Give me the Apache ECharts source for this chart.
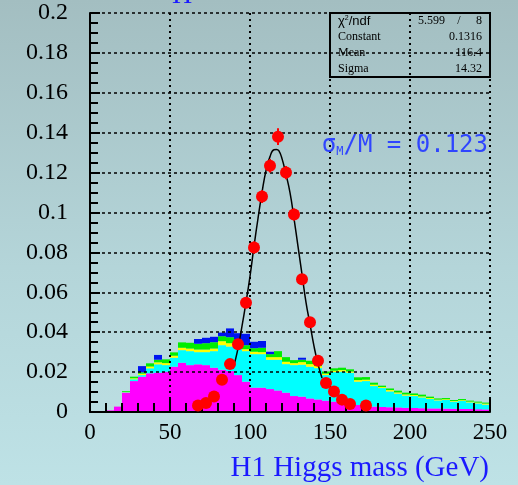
<!DOCTYPE html>
<html>
<head>
<meta charset="utf-8">
<script src="https://cdn.jsdelivr.net/npm/echarts@6/dist/echarts.min.js"></script>
<style>
  body { margin: 0; background: linear-gradient(180deg, #a3bec1 0%, #b4d5d9 55%, #bee2e6 100%); }
  #main { width: 518px; height: 485px; }
</style>
</head>
<body>
<div id="main"></div>
<script>
// histogram bins (lower edge, GeV), 5 GeV wide
const binStart = [0, 5, 10, 15, 20, 25, 30, 35, 40, 45, 50, 55, 60, 65, 70, 75, 80, 85, 90, 95,
  100, 105, 110, 115, 120, 125, 130, 135, 140, 145, 150, 155, 160, 165, 170, 175, 180, 185, 190, 195,
  200, 205, 210, 215, 220, 225, 230, 235, 240, 245]

// stacked background contributions (each layer's own height)
const redBkg = [0.0004, 0.0004, 0.0004, 0.0004, 0.0004, 0.0004, 0.0004, 0.0004, 0.0004, 0.0004,
  0.0004, 0.0004, 0.0004, 0.0004, 0.0004, 0.0004, 0.0004, 0.0004, 0.0004, 0.0004,
  0.0004, 0.0004, 0.0004, 0.0004, 0.0004, 0.0004, 0.0004, 0.0004, 0.0004, 0.0004,
  0.0004, 0.0004, 0.0004, 0.0004, 0.0004, 0.0004, 0.0004, 0.0004, 0.0004, 0.0004,
  0.0004, 0.0004, 0.0004, 0.0004, 0.0004, 0.0004, 0.0004, 0.0004, 0.0004, 0.0004]
const magentaBkg = [0, 0, 0.0004, 0.0023, 0.0093, 0.0151, 0.0173, 0.019, 0.0193, 0.0198,
  0.0223, 0.0243, 0.0231, 0.0235, 0.0231, 0.0218, 0.0208, 0.0201, 0.0181, 0.0148,
  0.0118, 0.0118, 0.0111, 0.0104, 0.0093, 0.0076, 0.0073, 0.0064, 0.0059, 0.0053,
  0.0048, 0.0041, 0.0036, 0.0031, 0.0028, 0.0023, 0.0021, 0.002, 0.0019, 0.0017,
  0.0016, 0.0015, 0.0014, 0.0014, 0.0013, 0.0012, 0.0011, 0.0011, 0.001, 0.0009]
const cyanBkg = [0, 0, 0, 0, 0.0002, 0.0009, 0.0008, 0.0025, 0.0042, 0.0033,
  0.0045, 0.0063, 0.007, 0.0061, 0.0065, 0.0083, 0.0123, 0.0123, 0.014, 0.0153,
  0.0168, 0.0168, 0.0147, 0.0154, 0.0143, 0.0155, 0.016, 0.0159, 0.0157, 0.0128,
  0.0148, 0.0157, 0.0157, 0.0117, 0.0123, 0.0103, 0.0095, 0.0079, 0.0069, 0.0061,
  0.006, 0.0054, 0.0047, 0.004, 0.0043, 0.0036, 0.004, 0.0033, 0.0029, 0.0024]
const yellowBkg = [0, 0, 0, 0, 0.0002, 0.0005, 0.0007, 0.0009, 0.001, 0.001,
  0.001, 0.0012, 0.0013, 0.0013, 0.0013, 0.0013, 0.002, 0.0017, 0.0015, 0.001,
  0.0012, 0.001, 0.0013, 0.0013, 0.0012, 0.001, 0.0013, 0.0013, 0.001, 0.0007,
  0.0007, 0.0008, 0.0006, 0.0008, 0.0007, 0.0007, 0.0005, 0.0007, 0.0006, 0.0006,
  0.0005, 0.0005, 0.0005, 0.0004, 0.0004, 0.0003, 0.0004, 0.0004, 0.0004, 0.0005]
const greenBkg = [0, 0, 0, 0, 0.0004, 0.0008, 0.0007, 0.0016, 0.0013, 0.0019,
  0.0017, 0.0027, 0.0029, 0.0029, 0.0032, 0.0032, 0.0025, 0.003, 0.0022, 0.002,
  0.0018, 0.0022, 0.0015, 0.003, 0.0023, 0.0015, 0.0012, 0.0017, 0.002, 0.0011,
  0.0012, 0.0012, 0.0011, 0.0014, 0.0013, 0.001, 0.0007, 0.0008, 0.0009, 0.0009,
  0.0008, 0.0009, 0.0007, 0.0006, 0.0006, 0.0005, 0.0006, 0.0005, 0.0005, 0.0005]
const blueBkg = [0, 0, 0, 0, 0, 0, 0.0031, 0, 0.0024, 0,
  0, 0, 0, 0.0024, 0.0027, 0.0027, 0.0018, 0.0044, 0.0033, 0.0057,
  0.0032, 0.0034, 0.0012, 0, 0, 0, 0.001, 0, 0, 0,
  0, 0, 0, 0, 0, 0, 0, 0, 0, 0,
  0, 0, 0, 0, 0, 0, 0, 0, 0, 0]

// signal points (red dots)
const pointMass = [67.5, 72.5, 77.5, 82.5, 87.5, 92.5, 97.5, 102.5, 107.5, 112.5, 117.5,
  122.5, 127.5, 132.5, 137.5, 142.5, 147.5, 152.5, 157.5, 162.5, 172.5]
const pointVal = [0.0032, 0.0045, 0.0078, 0.0162, 0.024, 0.034, 0.0548, 0.0825, 0.108, 0.1234, 0.138,
  0.12, 0.099, 0.0666, 0.045, 0.0257, 0.0145, 0.0103, 0.0062, 0.004, 0.0033]
const pointErr = [0.001, 0.0012, 0.0015, 0.002, 0.0022, 0.0025, 0.0028, 0.003, 0.0032, 0.0034, 0.0042,
  0.0033, 0.003, 0.0026, 0.0022, 0.0017, 0.0013, 0.0011, 0.0009, 0.0008, 0.0008]

// gaussian fit curve
const fitMass = [89.5, 92, 95, 97.5, 100, 102.5, 105, 107.5, 110, 112.5, 115, 116.5, 118, 120,
  122.5, 125, 127.5, 130, 132.5, 135, 137.5, 140, 142.5, 145]
const fitVal = [0.022, 0.03, 0.043, 0.055, 0.068, 0.083, 0.097, 0.11, 0.121, 0.128, 0.1315, 0.1316, 0.131, 0.127,
  0.119, 0.11, 0.097, 0.083, 0.069, 0.055, 0.044, 0.033, 0.024, 0.017]

// fit box
const statNames = ['Constant', 'Mean', 'Sigma']
const statValues = ['0.1316', '116.4', '14.32']

var myChart = echarts.init(document.getElementById('main'))

var serif = 'Liberation Serif'
var bkgLayers = [
  ['red', redBkg, '#ff0000'],
  ['magenta', magentaBkg, '#ff00ff'],
  ['cyan', cyanBkg, '#00ffff'],
  ['yellow', yellowBkg, '#ffff00'],
  ['green', greenBkg, '#00ee00'],
  ['blue', blueBkg, '#0014f0']
]
var series = bkgLayers.map(function (l) {
  return {
    name: l[0],
    type: 'bar',
    xAxisIndex: 1,
    stack: 'bkg',
    barCategoryGap: '0%',
    data: l[1],
    itemStyle: { color: l[2] },
    silent: true,
    z: 2
  }
})
series.push({
  type: 'line',
  data: fitMass.map(function (m, i) { return [m, fitVal[i]] }),
  smooth: true,
  showSymbol: false,
  lineStyle: { color: '#000', width: 1.5 },
  z: 4
})
series.push({
  type: 'custom',
  data: pointMass.map(function (m, i) { return [m, pointVal[i], pointErr[i]] }),
  renderItem: function (params, api) {
    var lo = api.coord([api.value(0), api.value(1) - api.value(2)])
    var hi = api.coord([api.value(0), api.value(1) + api.value(2)])
    return { type: 'line', shape: { x1: lo[0], y1: lo[1], x2: hi[0], y2: hi[1] }, style: { stroke: '#ff0000', lineWidth: 2 } }
  },
  z: 5
})
series.push({
  type: 'scatter',
  data: pointMass.map(function (m, i) { return [m, pointVal[i]] }),
  symbol: 'circle',
  symbolSize: 12,
  itemStyle: { color: '#ff0000', opacity: 1 },
  z: 6
})

var graphic = [
  { type: 'rect', shape: { x: 330, y: 13, width: 160, height: 64 }, style: { fill: 'none', stroke: '#000', lineWidth: 2 }, z: 10 },
  { type: 'text', x: 338, y: 21, style: { text: '{a|χ}{s|2}{a|/ndf}', verticalAlign: 'middle', rich: {
    a: { fontFamily: 'Liberation Sans', fontSize: 13, fill: '#000' },
    s: { fontFamily: 'Liberation Sans', fontSize: 7, fill: '#000', verticalAlign: 'top' } } }, z: 10 },
  { type: 'text', x: 445, y: 21, style: { text: '5.599', font: '12px ' + serif, fill: '#000', align: 'right', verticalAlign: 'middle' }, z: 10 },
  { type: 'text', x: 459, y: 21, style: { text: '/', font: '12px ' + serif, fill: '#000', align: 'center', verticalAlign: 'middle' }, z: 10 },
  { type: 'text', x: 482, y: 21, style: { text: '8', font: '12px ' + serif, fill: '#000', align: 'right', verticalAlign: 'middle' }, z: 10 },
  // blue title, mostly cut off at the top
  { type: 'text', x: 182, y: 10, style: { text: 'H', font: '28px ' + serif, fill: '#1a1aff', align: 'center', verticalAlign: 'bottom' }, z: 10 },
  { type: 'text', x: 489, y: 468, style: { text: 'H1 Higgs mass (GeV)', font: '29px ' + serif, fill: '#1a1aff', align: 'right', verticalAlign: 'middle' }, z: 10 },
  { type: 'text', x: 488, y: 146, style: { text: '{a|σ}{b|M}{a|/M = 0.123}', align: 'right', verticalAlign: 'middle', rich: {
    a: { fontFamily: 'DejaVu Sans Mono', fontSize: 24, fill: '#2f45ff' },
    b: { fontFamily: 'DejaVu Sans Mono', fontSize: 12, fill: '#2f45ff', verticalAlign: 'bottom' } } }, z: 10 }
]
statNames.forEach(function (n, i) {
  var y = 37 + i * 16
  graphic.push({ type: 'text', x: 338, y: y, style: { text: n, font: '12px ' + serif, fill: '#000', verticalAlign: 'middle' }, z: 10 })
  graphic.push({ type: 'text', x: 482, y: y, style: { text: statValues[i], font: '12px ' + serif, fill: '#000', align: 'right', verticalAlign: 'middle' }, z: 10 })
})

var option = {
  backgroundColor: 'transparent',
  animation: false,
  grid: { left: 90, top: 13, width: 400, height: 399 },
  xAxis: [
    {
      type: 'value',
      min: 0,
      max: 250,
      interval: 50,
      axisLine: { show: true, lineStyle: { color: '#000', width: 2 }, onZero: false },
      axisTick: { show: true, inside: true, length: 13, lineStyle: { color: '#000', width: 2 } },
      minorTick: { show: true, splitNumber: 5, length: 9, lineStyle: { color: '#000', width: 2 } },
      axisLabel: { color: '#000', fontFamily: serif, fontSize: 23, margin: 9 },
      splitLine: { show: true, lineStyle: { color: '#000', width: 2, type: [2, 4] } },
      z: 3
    },
    {
      type: 'category',
      data: binStart,
      show: false,
      boundaryGap: true
    }
  ],
  yAxis: {
    type: 'value',
    min: 0,
    max: 0.2,
    interval: 0.02,
    axisLine: { show: true, lineStyle: { color: '#000', width: 2 } },
    axisTick: { show: true, inside: true, length: 10, lineStyle: { color: '#000', width: 2 } },
    minorTick: { show: true, splitNumber: 4, length: 8, lineStyle: { color: '#000', width: 2 } },
    axisLabel: { color: '#000', fontFamily: serif, fontSize: 24, margin: 22 },
    splitLine: { show: true, lineStyle: { color: '#000', width: 1.5, type: [3, 3] } },
    z: 3
  },
  graphic: graphic,
  series: series
}
myChart.setOption(option)
</script>
</body>
</html>
